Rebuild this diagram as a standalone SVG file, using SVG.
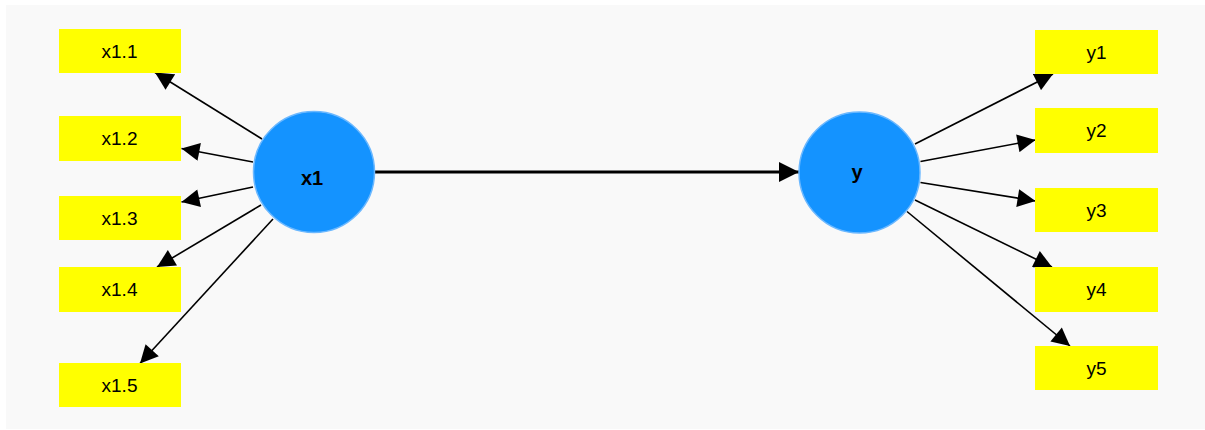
<svg xmlns="http://www.w3.org/2000/svg" width="1205" height="430" viewBox="0 0 1205 430">
<style>
.box{fill:#ffff00}
.lbl{font-family:"Liberation Sans",Arial,sans-serif;font-size:19px;fill:#000;text-anchor:middle;dominant-baseline:central}
.lat{fill:#1493ff;stroke:#6bb8ff;stroke-width:1.5}
.latlbl{font-family:"Liberation Sans",Arial,sans-serif;font-size:20px;font-weight:bold;fill:#000;text-anchor:middle;dominant-baseline:central}
.edge{stroke:#000;stroke-width:1.6;fill:none;marker-end:url(#arr)}
.main{stroke:#000;stroke-width:2.8;fill:none;marker-end:url(#arrBig)}
</style>
<defs>
<marker id="arr" viewBox="0 0 10 10" refX="10" refY="5" markerUnits="userSpaceOnUse" markerWidth="19" markerHeight="18" orient="auto">
<path d="M0,0 L10,5 L0,10 z" fill="#000"/>
</marker>
<marker id="arrBig" viewBox="0 0 10 10" refX="10" refY="5" markerUnits="userSpaceOnUse" markerWidth="21" markerHeight="20" orient="auto">
<path d="M0,0 L10,5 L0,10 z" fill="#000"/>
</marker>
</defs>
<rect x="0" y="0" width="1205" height="430" fill="#ffffff"/>
<rect x="6" y="5" width="1199" height="424" fill="#f9f9f9"/>
<g id="connectors">
<line class="edge" x1="262" y1="139" x2="155" y2="72.5"/>
<line class="edge" x1="253" y1="162" x2="181.5" y2="148.5"/>
<line class="edge" x1="253" y1="187" x2="181.5" y2="202"/>
<line class="edge" x1="261" y1="205" x2="157" y2="267"/>
<line class="edge" x1="273" y1="219" x2="140" y2="363.5"/>
<line class="main" x1="375" y1="172" x2="799" y2="172"/>
<line class="edge" x1="915" y1="144" x2="1053" y2="74"/>
<line class="edge" x1="920.5" y1="161.5" x2="1035.5" y2="140"/>
<line class="edge" x1="920.5" y1="182.5" x2="1035.5" y2="201"/>
<line class="edge" x1="915" y1="200" x2="1052" y2="267"/>
<line class="edge" x1="907" y1="211.5" x2="1070" y2="346"/>
</g>
<g id="x1_1"><rect class="box" x="59" y="29" width="122" height="44"/><text class="lbl" x="119.5" y="51">x1.1</text></g>
<g id="x1_2"><rect class="box" x="59" y="116" width="122" height="45"/><text class="lbl" x="119.5" y="138.5">x1.2</text></g>
<g id="x1_3"><rect class="box" x="59" y="196" width="122" height="44"/><text class="lbl" x="119.5" y="218">x1.3</text></g>
<g id="x1_4"><rect class="box" x="59" y="267" width="122" height="45"/><text class="lbl" x="119.5" y="289.5">x1.4</text></g>
<g id="x1_5"><rect class="box" x="59" y="363" width="122" height="44"/><text class="lbl" x="119.5" y="385">x1.5</text></g>
<g id="x1"><circle class="lat" cx="314" cy="172" r="60.5"/><text class="latlbl" x="312" y="178">x1</text></g>
<g id="y"><circle class="lat" cx="859.5" cy="172.5" r="60.5"/><text class="latlbl" x="857" y="172">y</text></g>
<g id="y1"><rect class="box" x="1035" y="30" width="123" height="44"/><text class="lbl" x="1096.5" y="52">y1</text></g>
<g id="y2"><rect class="box" x="1035" y="108" width="123" height="45"/><text class="lbl" x="1096.5" y="130.5">y2</text></g>
<g id="y3"><rect class="box" x="1035" y="188" width="123" height="44"/><text class="lbl" x="1096.5" y="210">y3</text></g>
<g id="y4"><rect class="box" x="1035" y="267" width="123" height="45"/><text class="lbl" x="1096.5" y="289.5">y4</text></g>
<g id="y5"><rect class="box" x="1035" y="346" width="123" height="44"/><text class="lbl" x="1096.5" y="368">y5</text></g>
</svg>
